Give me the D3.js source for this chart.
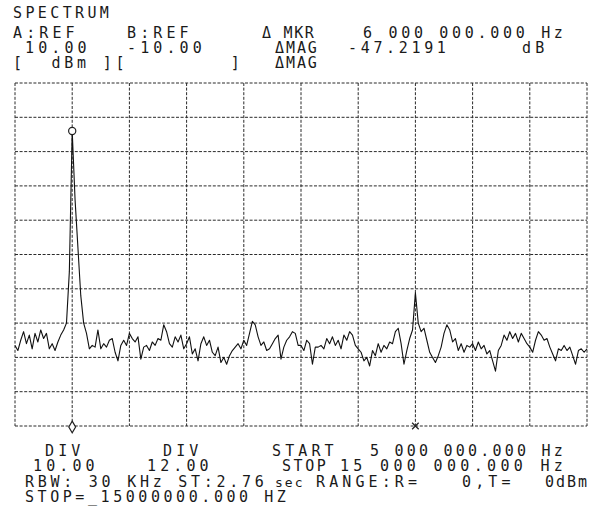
<!DOCTYPE html>
<html lang="en">
<head>
<meta charset="utf-8">
<script src="https://d3js.org/d3.v7.min.js"></script>
<style>
  html, body { margin: 0; padding: 0; background: #fff; }
  text { font-family: "DejaVu Sans Mono", monospace; font-size: 15px; fill: #1a1a1a; letter-spacing: 4.1px; }
</style>
</head>
<body>
<div id="chart"></div>
<script>
// sweep settings
const startMHz = 5, stopMHz = 15;
const refDbm = 10, dbPerDiv = 10, nDiv = 10;

// trace A, dBm, 201 sweep points from 5 to 15 MHz
const levelDbm = [
  -66.5, -68.0, -65.0, -62.5, -66.0, -63.5, -67.5, -63.0, -65.5, -62.0,
  -64.5, -63.0, -67.5, -66.0, -68.0, -65.5, -63.5, -62.0, -60.0, -45.0,
  -4.0, -24.0, -38.0, -52.0, -60.0, -63.0, -67.5, -66.5, -67.0, -62.0,
  -67.5, -66.0, -67.0, -65.0, -64.5, -68.5, -71.0, -66.5, -65.0, -66.5,
  -63.0, -64.5, -65.5, -64.0, -70.5, -67.0, -66.5, -68.0, -65.5, -66.5,
  -64.5, -65.0, -60.5, -62.5, -66.0, -67.0, -64.0, -65.5, -63.5, -67.5,
  -66.0, -64.0, -69.0, -67.5, -71.0, -66.0, -64.0, -66.5, -65.0, -68.5,
  -69.5, -67.0, -71.5, -70.0, -72.0, -69.5, -68.0, -67.0, -66.0, -67.5,
  -65.0, -66.5, -63.0, -59.5, -60.5, -64.0, -66.5, -65.5, -68.0, -67.5,
  -66.0, -64.5, -63.5, -70.5, -67.0, -65.0, -64.0, -62.5, -63.0, -66.5,
  -66.5, -68.0, -65.0, -66.0, -72.0, -67.0, -67.0, -66.5, -67.5, -64.5,
  -66.0, -64.0, -66.5, -65.0, -67.5, -63.5, -65.0, -62.5, -63.5, -66.5,
  -67.5, -68.5, -71.0, -70.0, -72.5, -68.0, -69.5, -66.0, -68.5, -66.5,
  -67.5, -65.5, -66.0, -62.5, -61.5, -66.0, -72.0, -68.0, -64.5, -62.0,
  -51.2, -60.0, -62.5, -61.5, -65.0, -68.5, -70.0, -71.5, -69.5, -67.0,
  -63.0, -60.5, -62.0, -65.5, -64.5, -68.0, -66.0, -68.5, -66.5, -67.0,
  -66.0, -68.0, -65.5, -67.5, -66.5, -69.0, -68.0, -71.0, -74.0, -68.0,
  -66.5, -63.5, -65.0, -62.5, -64.5, -63.0, -65.5, -63.0, -64.5, -66.0,
  -67.0, -68.5, -65.0, -62.5, -63.5, -65.0, -64.5, -67.0, -69.0, -71.0,
  -67.5, -68.0, -66.5, -68.0, -67.0, -69.5, -72.0, -68.0, -67.5, -68.5,
  -67.5
];
const freqMHz = levelDbm.map((d, i) => startMHz + i * (stopMHz - startMHz) / (levelDbm.length - 1));

// markers (MHz)
const markerMHz = [6, 12];

// readout texts
const refA = "10.00", refB = "-10.00";
const divA = "10.00", divB = "12.00";
const mkrFreq = "6 000 000.000 Hz", dMag = "-47.2191";
const startFreq = "5 000 000.000 Hz", stopFreq = "15 000 000.000 Hz";

const W = 592, H = 520;
const plot = {left: 15, right: 587, top: 83, bottom: 426};

const svg = d3.select("#chart")
  .append("svg")
    .attr("width", W)
    .attr("height", H);

svg.append("rect").attr("width", W).attr("height", H).attr("fill", "#fff");

const x = d3.scaleLinear().domain([startMHz, stopMHz]).range([plot.left, plot.right]);
const y = d3.scaleLinear().domain([refDbm - nDiv * dbPerDiv, refDbm]).range([plot.bottom, plot.top]);

// dotted graticule
const grid = svg.append("g")
  .attr("stroke", "#2a2a2a")
  .attr("stroke-width", 1)
  .attr("stroke-dasharray", "3,1.6")
  .attr("fill", "none");

grid.selectAll(".v")
  .data(d3.range(startMHz, stopMHz + 0.5, (stopMHz - startMHz) / nDiv))
  .join("line")
    .attr("x1", d => x(d)).attr("x2", d => x(d))
    .attr("y1", plot.top).attr("y2", plot.bottom);

grid.selectAll(".h")
  .data(d3.range(refDbm - nDiv * dbPerDiv, refDbm + 1, dbPerDiv))
  .join("line")
    .attr("x1", plot.left).attr("x2", plot.right)
    .attr("y1", d => y(d)).attr("y2", d => y(d));

// trace
const line = d3.line()
  .x((d, i) => x(freqMHz[i]))
  .y(d => y(d));

svg.append("path")
  .datum(levelDbm)
  .attr("d", line)
  .attr("fill", "none")
  .attr("stroke", "#111")
  .attr("stroke-width", 1.1)
  .attr("stroke-linejoin", "round");

// marker symbols
const peakIdx = freqMHz.findIndex(f => Math.abs(f - markerMHz[0]) < 1e-6);
svg.append("circle")
  .attr("cx", x(markerMHz[0]))
  .attr("cy", y(levelDbm[peakIdx]))
  .attr("r", 3.6)
  .attr("fill", "#fff")
  .attr("stroke", "#222")
  .attr("stroke-width", 1.2);

svg.append("path")
  .attr("d", d3.symbol(d3.symbolDiamond, 40)())
  .attr("transform", `translate(${x(markerMHz[0])},${plot.bottom + 1})`)
  .attr("fill", "#fff")
  .attr("stroke", "#222")
  .attr("stroke-width", 1.2);

svg.append("path")
  .attr("d", d3.symbol(d3.symbolX, 30)())
  .attr("transform", `translate(${x(markerMHz[1])},${plot.bottom})`)
  .attr("fill", "none")
  .attr("stroke", "#222")
  .attr("stroke-width", 1.2);

// readout text
function txt(px, py, s, len) {
  const t = svg.append("text")
    .attr("x", px).attr("y", py)
    .attr("xml:space", "preserve")
    .text(s);
  if (len) t.attr("textLength", len).attr("lengthAdjust", "spacing");
  return t;
}

txt(13, 18, "SPECTRUM", 100);

txt(13, 38, "A:REF");
txt(127, 38, "B:REF");
txt(262, 38, "\u0394 MKR", 56);
txt(363, 38, mkrFreq, 204);

txt(25, 53, refA);
txt(127, 53, refB);
txt(275, 53, "\u0394MAG", 46);
txt(348, 53, dMag, 102);
txt(522, 53, "dB");

txt(13, 68, "[  dBm ][        ]", 231);
txt(275, 68, "\u0394MAG", 46);

txt(45, 456, "DIV");
txt(163, 456, "DIV");
txt(272, 456, "START");
txt(370, 456, startFreq, 197);

txt(33, 471, divA);
txt(147, 471, divB);
txt(282, 471, "STOP", 48);
txt(340, 471, stopFreq, 227);

txt(25, 487, "RBW: 30 KHz ST:2.76", 243);
txt(275, 487, "sec").style("font-size", "13px").style("letter-spacing", "2px");
txt(316, 487, "RANGE:R=");
txt(462, 487, "0,T=");
txt(545, 487, "0dBm").style("letter-spacing", "2px");

txt(25, 502, "STOP=_15000000.000 HZ", 265);
</script>
</body>
</html>
